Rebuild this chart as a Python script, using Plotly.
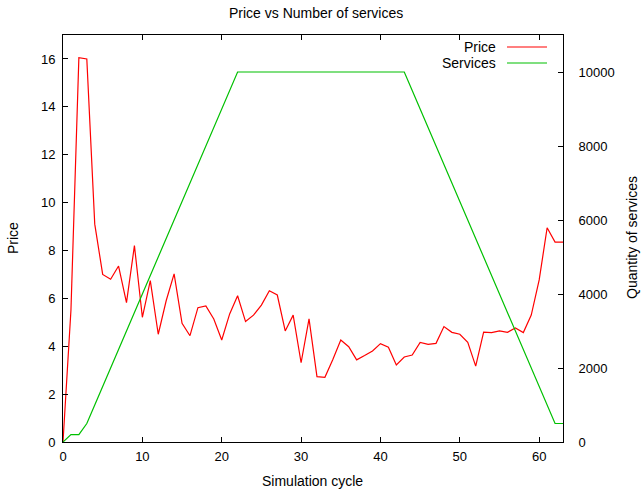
import plotly.graph_objects as go

# Simulation cycle index
cycles = list(range(64))

# Price per cycle
price = [
    0.0, 5.5, 16.05, 16.0, 9.1, 7.0, 6.8, 7.35, 5.82, 8.2,
    5.21, 6.74, 4.5, 5.9, 7.02, 4.96, 4.44, 5.61, 5.68, 5.14,
    4.26, 5.35, 6.11, 5.03, 5.3, 5.72, 6.32, 6.14, 4.64, 5.3,
    3.31, 5.14, 2.73, 2.7, 3.45, 4.26, 3.98, 3.43, 3.61, 3.8,
    4.11, 3.96, 3.22, 3.55, 3.63, 4.16, 4.08, 4.12, 4.82, 4.58,
    4.5, 4.16, 3.17, 4.59, 4.57, 4.64, 4.58, 4.76, 4.57, 5.3,
    6.77, 8.95, 8.35, 8.35,
]

# Number of services per cycle
services = [
    0, 200, 200, 500, 1000, 1500, 2000, 2500, 3000, 3500,
    4000, 4500, 5000, 5500, 6000, 6500, 7000, 7500, 8000, 8500,
    9000, 9500, 10000, 10000, 10000, 10000, 10000, 10000, 10000, 10000,
    10000, 10000, 10000, 10000, 10000, 10000, 10000, 10000, 10000, 10000,
    10000, 10000, 10000, 10000, 9500, 9000, 8500, 8000, 7500, 7000,
    6500, 6000, 5500, 5000, 4500, 4000, 3500, 3000, 2500, 2000,
    1500, 1000, 500, 500,
]

price_ticks = list(range(0, 17, 2))
service_ticks = list(range(0, 10001, 2000))
service_tick_text = [str(v) for v in service_ticks]
cycle_ticks = list(range(0, 61, 10))

RED = "#ff0000"
GREEN = "#00c000"
FONT = "Liberation Sans"
TICK_SIZE = 13
LABEL_SIZE = 14

W, H = 643, 493
L, R, T, B = 63, 80, 35, 51
pw = W - L - R
ph = H - T - B

fig = go.Figure()
fig.add_trace(go.Scatter(x=cycles, y=price, mode="lines", name="Price",
                         line=dict(color=RED, width=1.2), yaxis="y"))
fig.add_trace(go.Scatter(x=cycles, y=services, mode="lines", name="Services",
                         line=dict(color=GREEN, width=1.2), yaxis="y2"))

axis_common = dict(
    showgrid=False, zeroline=False, showline=True, linecolor="black",
    linewidth=1, ticks="inside", ticklen=5, tickcolor="black", tickwidth=1,
    tickfont=dict(family=FONT, size=TICK_SIZE, color="black"),
)

fig.update_layout(
    width=W, height=H,
    margin=dict(l=L, r=R, t=T, b=B),
    paper_bgcolor="white", plot_bgcolor="white",
    showlegend=False,
    font=dict(family=FONT, size=TICK_SIZE, color="black"),
    xaxis=dict(range=[0, 63], tickvals=cycle_ticks, mirror="ticks",
               ticklabelstandoff=2, **axis_common),
    yaxis=dict(range=[0, 17], tickvals=price_ticks, ticklabelstandoff=4,
               **axis_common),
    yaxis2=dict(range=[0, 11000], tickvals=service_ticks,
                ticktext=service_tick_text, overlaying="y", side="right",
                ticklabelstandoff=12, **axis_common),
)

# Titles
def px_x(x):
    return (x - L) / pw

def px_y(y):
    return (H - B - y) / ph

annotations = [
    dict(text="Price vs Number of services", x=px_x(316), y=px_y(13)),
    dict(text="Simulation cycle", x=px_x(312), y=px_y(481)),
    dict(text="Price", x=px_x(13), y=px_y(238), textangle=-90),
    dict(text="Quantity of services", x=px_x(632), y=px_y(238), textangle=-90),
]
for a in annotations:
    fig.add_annotation(xref="paper", yref="paper", showarrow=False,
                       xanchor="center", yanchor="middle",
                       font=dict(family=FONT, size=LABEL_SIZE, color="black"), **a)

# Key in the upper right corner: label then line sample
for i, (name, color) in enumerate([("Price", RED), ("Services", GREEN)]):
    yk = 47 + i * 16
    fig.add_annotation(xref="paper", yref="paper", showarrow=False,
                       x=px_x(498), y=px_y(yk), xanchor="right", yanchor="middle",
                       text=name, font=dict(family=FONT, size=LABEL_SIZE, color="black"))
    fig.add_shape(type="line", xref="paper", yref="paper",
                  x0=px_x(507), x1=px_x(547), y0=px_y(yk), y1=px_y(yk),
                  line=dict(color=color, width=1.2))

fig.write_html("out.html")
